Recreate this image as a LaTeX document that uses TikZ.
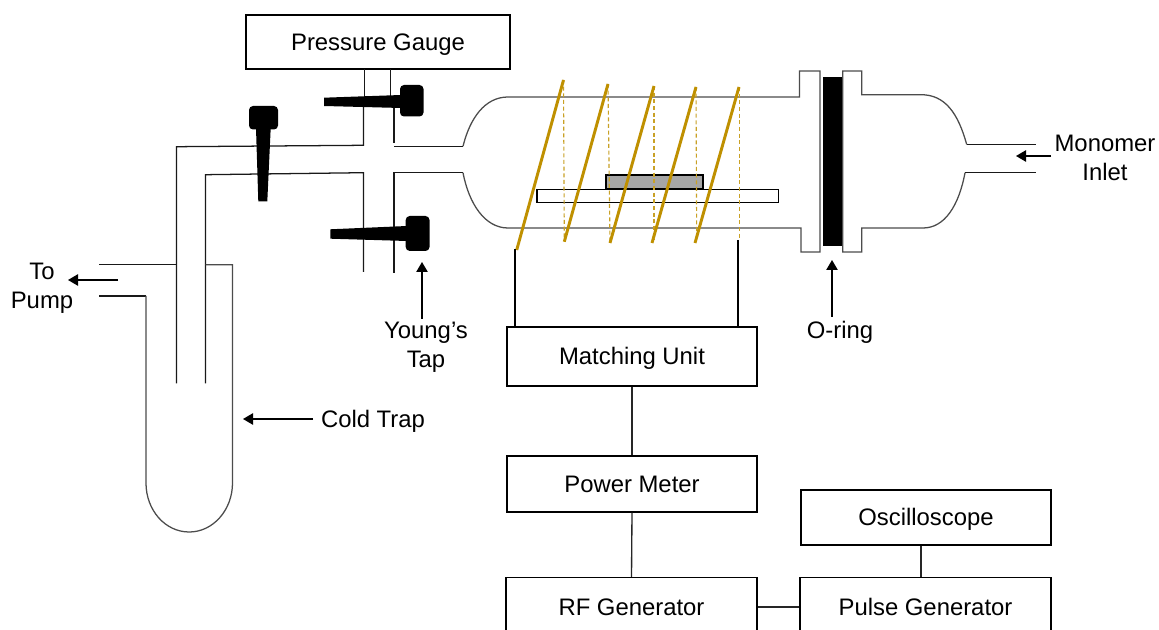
\documentclass[tikz,border=0pt]{standalone}
\usepackage{fontspec}
\setmainfont{Liberation Sans}
\usetikzlibrary{arrows.meta,calc}
\definecolor{coilgold}{HTML}{BF9000}
\definecolor{samplegray}{HTML}{A6A6A6}
\tikzset{
  x=0.75pt,y=-0.75pt,
  tube/.style={draw=black!90,line width=0.95pt},
  glass/.style={draw=black!70,line width=0.95pt},
  boxnode/.style={draw=black,line width=1.1pt,fill=white,inner sep=0pt,text height=12.6pt,text depth=0pt,font=\fontsize{17.9}{20}\selectfont,anchor=center},
  lbl/.style={inner sep=0pt,align=center,font=\fontsize{17.9}{21.5}\selectfont,anchor=center},
  link/.style={draw=black!85,line width=1pt},
  pointer/.style={draw=black,line width=1.1pt,-{Triangle[length=7.5pt,width=8.5pt]}},
  coil/.style={draw=coilgold,line width=2.2pt},
  coilback/.style={draw=coilgold!85,line width=0.85pt,dash pattern=on 3pt off 2pt},
  tap/.style={fill=black,draw=none},
}
\begin{document}
\begin{tikzpicture}
\useasboundingbox (0,0) rectangle (1159,630);
\clip (0,0) rectangle (1159,630);
\fill[white] (0,0) rectangle (1159,630);

% Boxes
\node[boxnode,minimum width=198pt,minimum height=40.5pt] (gauge) at (378,42) {Pressure Gauge};
\node[boxnode,minimum width=187.5pt,minimum height=44pt] (match) at (632,356.5) {Matching Unit};
\node[boxnode,minimum width=187.5pt,minimum height=42pt] (power) at (632,484) {Power Meter};
\node[boxnode,minimum width=188pt,minimum height=44pt] (rf) at (631.5,607) {RF Generator};
\node[boxnode,minimum width=188pt,minimum height=44pt] (pulse) at (925.5,607) {Pulse Generator};
\node[boxnode,minimum width=187.5pt,minimum height=41pt] (osc) at (926,517.5) {Oscilloscope};

% Box links
\draw[link] (match.south) -- (power.north);
\draw[link] (power.south) -- (rf.north);
\draw[link] (rf.east) -- (pulse.west);
\coordinate (oscdrop) at (921,560);
\draw[link] (oscdrop|-osc.south) -- (oscdrop|-pulse.north);

% Vacuum line
\draw[tube] (364.5,69) -- (364.5,100);
\draw[tube] (390.5,69) -- (390.5,100);
\draw[tube] (363.5,100) -- (363.5,145.3) -- (176.5,146.7) -- (176.5,383.5);
\draw[tube] (394,105) -- (394,143);
\draw[tube] (394,146.3) -- (463,146.3);
\draw[tube] (205.5,383.5) -- (205.5,174.7) -- (363.5,172.7) -- (363.5,272);
\draw[tube] (463,172.7) -- (394,172.7) -- (394,273);

% Cold trap
\draw[tube] (99,264.7) -- (176.5,264.7);
\draw[tube] (99,296) -- (146,296);
\draw[glass] (205.5,264.7) -- (232.5,264.7) -- (232.5,483)
  .. controls (232.5,510) and (213,532) .. (189.25,532)
  .. controls (165,532) and (146,510) .. (146,483) -- (146,296);

% Reactor left part
\draw[glass] (463,146.3) .. controls (470,118) and (485,97) .. (508,97) -- (799.5,97) -- (799.5,71) -- (820,71) -- (820,252) -- (801,252) -- (801,228) -- (508,228)
  .. controls (485,228) and (469,204) .. (463,172.7);
% Reactor right part
\draw[glass] (966.7,144.5) .. controls (958,113) and (945,94.7) .. (921,94.7) -- (861.7,94.7) -- (861.7,71) -- (842.7,71) -- (842.7,252) -- (861.7,252) -- (861.7,228) -- (923,228)
  .. controls (945,228) and (959,205) .. (965,172.7);
\draw[tube] (966.7,144.5) -- (1036,144.5);
\draw[tube] (965,172.7) -- (1036,172.7);

% O-ring
\fill[black] (822.7,76.7) rectangle (841.7,246);

% Platform and sample
\draw[draw=black,line width=1.2pt,fill=white] (537,189.5) rectangle (778.3,202.7);
\draw[draw=black,line width=1.2pt,fill=samplegray] (606,175) rectangle (702.7,188.5);

% Taps
\fill[tap] (324,97.7) -- (401,95) -- (401,108) -- (324,106) -- cycle;
\fill[tap,rounded corners=3pt] (400,85) rectangle (423.5,116.5);
\fill[tap] (330.3,229.3) -- (407,226) -- (407,241) -- (330.3,238.7) -- cycle;
\fill[tap,rounded corners=3pt] (405.7,216) rectangle (429.5,251);
\fill[tap] (256,128) -- (270.7,128) -- (267.3,201.3) -- (258.3,201.3) -- cycle;
\fill[tap,rounded corners=3pt] (249,106) rectangle (278,129.5);

% Coil
\coordinate (c1a) at (563.5,80);  \coordinate (c1b) at (516.7,250);
\coordinate (c2a) at (608,84);    \coordinate (c2b) at (564.3,241.7);
\coordinate (c3a) at (654,86);    \coordinate (c3b) at (610,243);
\coordinate (c4a) at (696,87);    \coordinate (c4b) at (652,243);
\coordinate (c5a) at (739,87);    \coordinate (c5b) at (695,243);
\coordinate (c5c) at (739,240);
\draw[coilback] (c1a) -- (c2b);
\draw[coilback] (c2a) -- (c3b);
\draw[coilback] (c3a) -- (654,240);
\draw[coilback] (c4a) -- (696.7,240);
\draw[coilback,line width=0.7pt] (c5a) -- (c5c);
\draw[coil] (c1a) -- (c1b);
\draw[coil] (c2a) -- (c2b);
\draw[coil] (c3a) -- (c3b);
\draw[coil] (c4a) -- (c4b);
\draw[coil] (c5a) -- (c5b);

% Coil feeds
\coordinate (feedl) at (515,249);
\coordinate (feedr) at (738,240);
\draw[draw=black,line width=1.2pt] (feedl) -- (feedl|-match.north);
\draw[draw=black,line width=1.2pt] (feedr) -- (feedr|-match.north);

% Labels
\node[lbl] (topump) at (42,288.5) {To\\[0.5pt]Pump};
\node[lbl] (coldtrap) at (373,421) {Cold Trap};
\node[lbl] (youngs) at (426,347) {Young’s\\Tap};
\node[lbl] (oring) at (840,332) {O-ring};
\node[lbl] (monomer) at (1105,158) {Monomer\\Inlet};

% Pointers
\coordinate (pa1) at (118,280); \coordinate (pa2) at (68,280);
\draw[pointer] (pa1) -- (pa2);
\coordinate (pb1) at (313,419); \coordinate (pb2) at (243,419);
\draw[pointer] (pb1) -- (pb2);
\coordinate (pc1) at (422,319); \coordinate (pc2) at (422,262);
\draw[pointer] (pc1) -- (pc2);
\coordinate (pd1) at (832,317); \coordinate (pd2) at (832,260);
\draw[pointer] (pd1) -- (pd2);
\coordinate (pe1) at (1051,156); \coordinate (pe2) at (1016,156);
\draw[pointer] (pe1) -- (pe2);
\end{tikzpicture}
\end{document}
